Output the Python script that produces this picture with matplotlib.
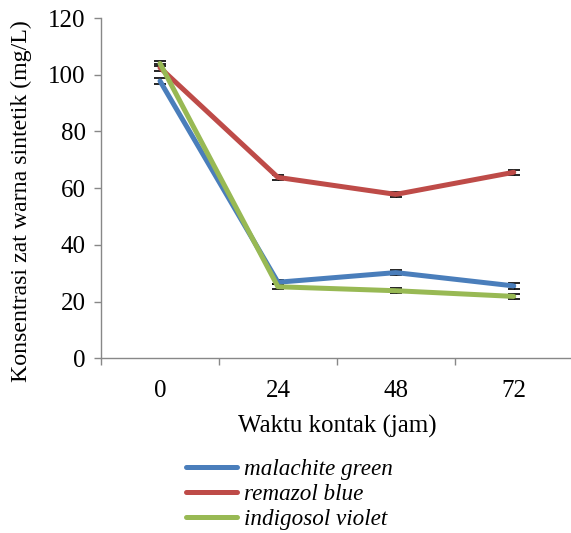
import matplotlib
matplotlib.use("Agg")
from matplotlib import pyplot as plt

# contact time categories and dye concentration (mg/L)
time_labels = ['0', '24', '48', '72']
malachite_green = [97.8, 26.8, 30.2, 25.5]
remazol_blue = [102.5, 63.8, 57.8, 65.6]
indigosol_violet = [104.0, 25.2, 23.8, 21.8]
err_malachite = [1.0, 0.8, 0.8, 1.2]
err_remazol = [1.2, 0.8, 0.8, 0.9]
err_indigosol = [1.0, 0.9, 0.8, 0.8]

series_names = ['malachite green', 'remazol blue', 'indigosol violet']
color_list = ['#4A7EBB', '#BE4B48', '#98B954']

plt.rcParams['font.family'] = ['Liberation Serif', 'DejaVu Serif']
plt.rcParams['font.size'] = 18

fig = plt.figure(figsize=(5.71, 5.33), dpi=100)
ax = fig.add_axes([0.177, 0.328, 0.826, 0.638])

x = list(range(len(time_labels)))
data_list = [malachite_green, remazol_blue, indigosol_violet]
err_list = [err_malachite, err_remazol, err_indigosol]
for i in range(len(data_list)):
    ax.errorbar(x, data_list[i], yerr=err_list[i], c=color_list[i], lw=3.6,
                ecolor='k', elinewidth=1, capsize=4.5, capthick=1.2,
                solid_capstyle='round', label=series_names[i])

ax.set_xlim(-0.5, 3.5)
ax.set_ylim(0, 120)
ax.set_yticks(range(0, 121, 20))
ax.set_xticks(x)
ax.set_xticklabels(time_labels)
ax.set_xticks([-0.5, 0.5, 1.5, 2.5, 3.5], minor=True)
ax.tick_params(axis='x', which='major', length=0, pad=16)
ax.tick_params(axis='x', which='minor', length=5, color='#888888', width=1)
ax.tick_params(axis='y', length=5, color='#888888', width=1, pad=6)
for side in ['top', 'right']:
    ax.spines[side].set_visible(False)
for side in ['left', 'bottom']:
    ax.spines[side].set_color('#888888')
    ax.spines[side].set_linewidth(1)

ax.set_xlabel('Waktu kontak (jam)', labelpad=9)
ax.set_ylabel('Konsentrasi zat warna sintetik (mg/L)', fontsize=17.2)
ax.yaxis.set_label_coords(-0.146, 0.462)

handles, labels = ax.get_legend_handles_labels()
handles = [h[0] for h in handles]
leg = fig.legend(handles, labels, loc='upper left', bbox_to_anchor=(0.31, 0.157),
                 frameon=False, handlelength=2.2, handletextpad=0.3,
                 labelspacing=0.16, borderaxespad=0, prop={'style': 'italic', 'size': 16.7})
for line in leg.get_lines():
    line.set_linewidth(3.6)
    line.set_solid_capstyle('round')

fig.savefig('out.png', dpi=100)
